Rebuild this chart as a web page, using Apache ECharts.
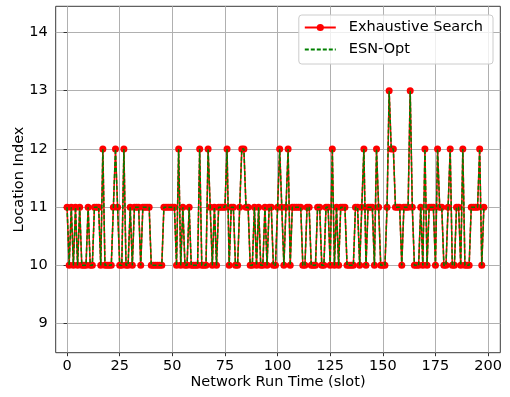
<!DOCTYPE html>
<html>
<head>
<meta charset="utf-8">
<script src="https://cdn.jsdelivr.net/npm/echarts@6/dist/echarts.min.js"></script>
<style>
  html, body { margin: 0; padding: 0; background: #fff; }
  #chart { width: 510px; height: 397px; }
</style>
</head>
<body>
<div id="chart"></div>
<script>
// location index chosen at each slot (both methods give the same path)
const locationIndex = [
  11, 10, 11, 10, 11, 10, 11, 10, 10,
  10, 11, 10, 10, 11, 11, 11, 10, 12, 10,
  10, 10, 10, 11, 12, 11, 10, 10, 12, 10,
  10, 11, 10, 11, 11, 11, 10, 11, 11, 11,
  11, 10, 10, 10, 10, 10, 10, 11, 11, 11,
  11, 11, 11, 10, 12, 10, 11, 10, 10, 11,
  10, 10, 10, 10, 12, 10, 10, 10, 12, 11,
  10, 11, 10, 11, 11, 11, 11, 12, 10, 11,
  11, 10, 10, 11, 12, 12, 11, 11, 10, 10,
  11, 10, 11, 10, 10, 11, 10, 11, 11, 10,
  10, 11, 12, 11, 10, 11, 12, 10, 11, 11,
  11, 11, 11, 10, 10, 11, 11, 10, 10, 10,
  11, 11, 10, 10, 11, 11, 10, 12, 10, 11,
  10, 11, 11, 11, 10, 10, 10, 10, 11, 11,
  10, 11, 12, 10, 11, 11, 11, 10, 12, 11,
  10, 10, 10, 11, 13, 12, 12, 11, 11, 11,
  10, 11, 11, 11, 13, 11, 10, 10, 10,
  11, 10, 12, 10, 11, 11, 11, 10, 12, 11,
  11, 10, 10, 11, 12, 10, 10, 11, 11, 10,
  12, 10, 10, 10, 11, 11, 11, 11, 12, 10,
  11
];
const exhaustive = locationIndex;
const esnOpt = locationIndex.slice();
const xTicks = [0, 25, 50, 75, 100, 125, 150, 175, 200];
const yTicks = [9, 10, 11, 12, 13, 14];

const font = "DejaVu Sans";
const chart = echarts.init(document.getElementById("chart"));

const axisCommon = {
  axisLine: { show: false },
  axisTick: { show: true, length: 3.5, lineStyle: { color: "#333", width: 1 } },
  splitLine: { show: true, lineStyle: { color: "#b0b0b0", width: 1 } },
  nameMoveOverlap: false,
  nameTextStyle: { color: "#000", fontFamily: font, fontSize: 14.5 },
};

chart.setOption({
  animation: false,
  backgroundColor: "#fff",
  grid: {
    left: 55.7, top: 6.3, right: 9.7, bottom: 44.3,
    outerBoundsMode: "none",
    containLabel: false,
    show: true, borderColor: "#3a3a3a", borderWidth: 1,
  },
  legend: {
    orient: "vertical",
    right: 17,
    top: 15,
    padding: [5, 10, 7, 5],
    itemGap: 7,
    itemWidth: 31,
    itemHeight: 9,
    backgroundColor: "rgba(255,255,255,0.8)",
    borderColor: "#cccccc",
    borderWidth: 1,
    borderRadius: 3,
    textStyle: { color: "#000", fontFamily: font, fontSize: 14.5, padding: [0, 0, 0, 8] },
    data: [
      { name: "Exhaustive Search" },
      { name: "ESN-Opt", itemStyle: { opacity: 0 } },
    ],
  },
  xAxis: Object.assign({}, axisCommon, {
    type: "value",
    min: -5.4,
    max: 205.8,
    name: "Network Run Time (slot)",
    nameLocation: "middle",
    nameGap: 22,
    axisTick: Object.assign({}, axisCommon.axisTick, { customValues: xTicks }),
    axisLabel: { customValues: xTicks, color: "#000", fontFamily: font, fontSize: 14.5, margin: 6 },
  }),
  yAxis: Object.assign({}, axisCommon, {
    type: "value",
    min: 8.5,
    max: 14.45,
    name: "Location Index",
    nameLocation: "middle",
    nameGap: 29,
    axisTick: Object.assign({}, axisCommon.axisTick, { customValues: yTicks }),
    axisLabel: { customValues: yTicks, color: "#000", fontFamily: font, fontSize: 14.5, margin: 8 },
  }),
  series: [
    {
      name: "Exhaustive Search",
      type: "line",
      data: exhaustive.map((v, i) => [i, v]),
      symbol: "circle",
      symbolSize: 7,
      showSymbol: true,
      itemStyle: { color: "#ff0000" },
      lineStyle: { color: "#ff0000", width: 1.5 },
      z: 2,
    },
    {
      name: "ESN-Opt",
      type: "line",
      data: esnOpt.map((v, i) => [i, v]),
      symbol: "none",
      itemStyle: { color: "#008000" },
      lineStyle: { color: "#008000", width: 1.5, type: [4, 2] },
      z: 3,
    },
  ],
});
</script>
</body>
</html>
